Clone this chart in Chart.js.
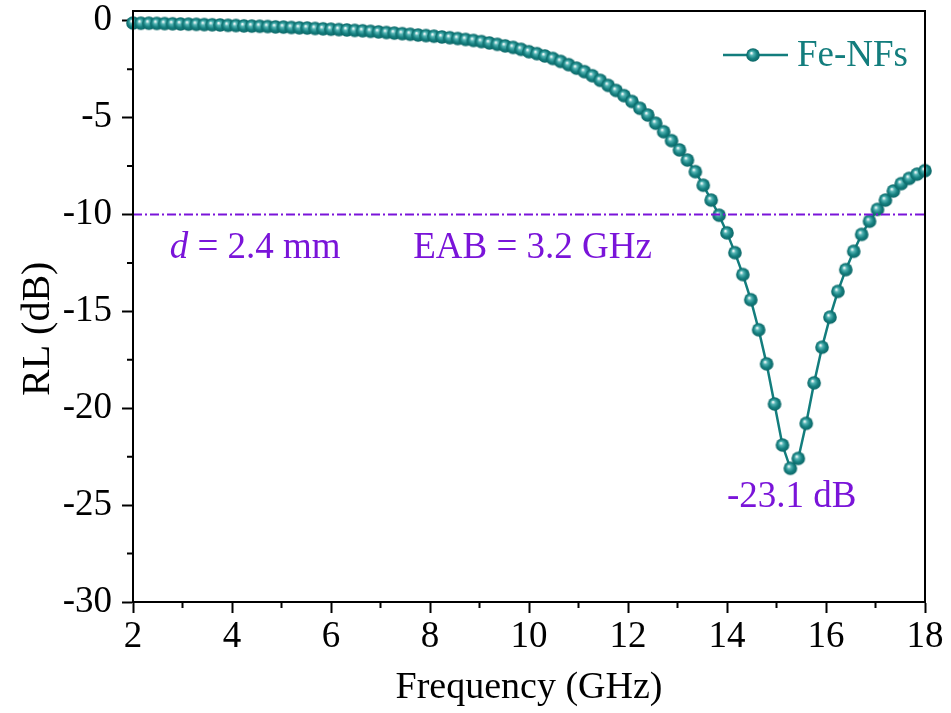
<!DOCTYPE html>
<html lang="en">
<head>
<meta charset="UTF-8">
<title>RL - Fe-NFs</title>
<script src="https://cdn.jsdelivr.net/npm/chart.js@4.4.1/dist/chart.umd.min.js"></script>
<style>
    html, body { margin: 0; padding: 0; background: #fff; }
    #wrap { width: 951px; height: 713px; }
</style>
</head>
<body>
<div id="wrap"><canvas id="rlChart" width="951" height="713"></canvas></div>
<script>
// Frequency (GHz) and reflection loss (dB)
const freq = [
    2.00, 2.16, 2.32, 2.48, 2.64, 2.80, 2.96, 3.12, 3.28, 3.44,
    3.60, 3.76, 3.92, 4.08, 4.24, 4.40, 4.56, 4.72, 4.88, 5.04,
    5.20, 5.36, 5.52, 5.68, 5.84, 6.00, 6.16, 6.32, 6.48, 6.64,
    6.80, 6.96, 7.12, 7.28, 7.44, 7.60, 7.76, 7.92, 8.08, 8.24,
    8.40, 8.56, 8.72, 8.88, 9.04, 9.20, 9.36, 9.52, 9.68, 9.84,
    10.00, 10.16, 10.32, 10.48, 10.64, 10.80, 10.96, 11.12, 11.28, 11.44,
    11.60, 11.76, 11.92, 12.08, 12.24, 12.40, 12.56, 12.72, 12.88, 13.04,
    13.20, 13.36, 13.52, 13.68, 13.84, 14.00, 14.16, 14.32, 14.48, 14.64,
    14.80, 14.96, 15.12, 15.28, 15.44, 15.60, 15.76, 15.92, 16.08, 16.24,
    16.40, 16.56, 16.72, 16.88, 17.04, 17.20, 17.36, 17.52, 17.68, 17.84,
    18.00
];
const rl = [
    -0.12, -0.13, -0.13, -0.14, -0.15, -0.16, -0.17, -0.18, -0.19, -0.20,
    -0.21, -0.22, -0.24, -0.25, -0.27, -0.28, -0.29, -0.30, -0.32, -0.33,
    -0.35, -0.37, -0.38, -0.40, -0.42, -0.44, -0.46, -0.48, -0.50, -0.52,
    -0.55, -0.58, -0.61, -0.64, -0.67, -0.70, -0.74, -0.77, -0.80, -0.84,
    -0.88, -0.92, -0.97, -1.02, -1.08, -1.15, -1.22, -1.30, -1.38, -1.48,
    -1.60, -1.70, -1.82, -1.95, -2.10, -2.27, -2.45, -2.63, -2.84, -3.08,
    -3.34, -3.60, -3.87, -4.17, -4.52, -4.87, -5.29, -5.73, -6.19, -6.67,
    -7.19, -7.79, -8.49, -9.26, -10.04, -10.95, -11.97, -13.10, -14.40, -15.95,
    -17.71, -19.78, -21.90, -23.10, -22.59, -20.78, -18.69, -16.85, -15.30, -13.97,
    -12.85, -11.90, -11.03, -10.35, -9.74, -9.26, -8.79, -8.41, -8.14, -7.92,
    -7.74
];
const seriesName = 'Fe-NFs';

// -10 dB reference line
const refX = [2, 18];
const refY = [-10, -10];

const xTicks = [2, 4, 6, 8, 10, 12, 14, 16, 18];
const yTicks = [0, -5, -10, -15, -20, -25, -30];
const xMinor = [3, 5, 7, 9, 11, 13, 15, 17];
const yMinor = [-2.5, -7.5, -12.5, -17.5, -22.5, -27.5];

// text notes: [text, x, y]
const notes = [
    ['= 2.4 mm', 2.74, -12.26],
    ['EAB = 3.2 GHz', 7.66, -12.26],
    ['-23.1 dB', 14.0, -25.1]
];
const yTitle = 'RL (dB)';

const teal = '#137d7d';
const purple = '#7a14d9';
const serif = '"Liberation Serif", "Times New Roman", serif';
const fs = 37;

// small shaded ball used as the marker
function makeBall(r) {
    const c = document.createElement('canvas');
    const s = Math.ceil(r * 2 + 2);
    c.width = s; c.height = s;
    const g = c.getContext('2d');
    const m = s / 2;
    const grad = g.createRadialGradient(m - r * 0.25, m - r * 0.3, 0.3, m, m, r);
    grad.addColorStop(0, '#ffffff');
    grad.addColorStop(0.28, '#52b3b3');
    grad.addColorStop(0.65, '#157f7f');
    grad.addColorStop(1, '#0b6666');
    g.fillStyle = grad;
    g.beginPath();
    g.arc(m, m, r, 0, Math.PI * 2);
    g.fill();
    return c;
}
const ball = makeBall(6.8);

const framePlugin = {
    id: 'frame',
    afterDraw(chart) {
        const { ctx, chartArea: a, scales: { x, y } } = chart;
        ctx.save();
        ctx.strokeStyle = '#000';
        ctx.lineWidth = 2;
        ctx.strokeRect(a.left, a.top, a.right - a.left, a.bottom - a.top);
        // minor ticks
        ctx.beginPath();
        xMinor.forEach(v => {
            const px = x.getPixelForValue(v);
            ctx.moveTo(px, a.bottom);
            ctx.lineTo(px, a.bottom + 6);
        });
        yMinor.forEach(v => {
            const py = y.getPixelForValue(v);
            ctx.moveTo(a.left, py);
            ctx.lineTo(a.left - 6, py);
        });
        ctx.stroke();

        // y axis title (sits a little below the middle in the original)
        ctx.fillStyle = '#000';
        ctx.font = '40px ' + serif;
        ctx.textAlign = 'center';
        ctx.textBaseline = 'middle';
        ctx.translate(38, y.getPixelForValue(-15.9));
        ctx.rotate(-Math.PI / 2);
        ctx.fillText(yTitle, 0, 0);
        ctx.restore();
    }
};

const notePlugin = {
    id: 'notes',
    afterDatasetsDraw(chart) {
        const { ctx, scales: { x, y } } = chart;
        ctx.save();
        ctx.fillStyle = purple;
        ctx.textBaseline = 'alphabetic';
        // "d" is italic
        const p0x = x.getPixelForValue(notes[0][1]);
        const p0y = y.getPixelForValue(notes[0][2]);
        ctx.font = 'italic ' + fs + 'px ' + serif;
        ctx.fillText('d', p0x, p0y);
        const dw = ctx.measureText('d ').width;
        ctx.font = fs + 'px ' + serif;
        ctx.fillText(notes[0][0], p0x + dw, p0y);
        for (let i = 1; i < notes.length; i++) {
            ctx.fillText(notes[i][0], x.getPixelForValue(notes[i][1]), y.getPixelForValue(notes[i][2]));
        }

        // legend
        const a = chart.chartArea;
        const ly = a.top + 44;
        const lx = a.right - 202;
        ctx.strokeStyle = teal;
        ctx.lineWidth = 2.5;
        ctx.beginPath();
        ctx.moveTo(lx, ly);
        ctx.lineTo(lx + 65, ly);
        ctx.stroke();
        ctx.drawImage(ball, lx + 30 - ball.width / 2, ly - ball.height / 2);
        ctx.fillStyle = teal;
        ctx.textBaseline = 'middle';
        ctx.font = fs + 'px ' + serif;
        ctx.fillText(seriesName, lx + 74, ly + 1);
        ctx.restore();
    }
};

new Chart(document.getElementById('rlChart'), {
    type: 'line',
    data: {
        datasets: [{
            label: 'RL = -10 dB',
            data: refX.map((v, i) => ({ x: v, y: refY[i] })),
            borderColor: purple,
            borderWidth: 2,
            borderDash: [9, 3, 2, 3],
            pointRadius: 0,
            order: 0
        }, {
            label: seriesName,
            data: freq.map((v, i) => ({ x: v, y: rl[i] })),
            borderColor: teal,
            borderWidth: 2.5,
            pointStyle: ball,
            pointRadius: 7,
            tension: 0,
            clip: false,
            order: 1
        }]
    },
    options: {
        responsive: false,
        animation: false,
        devicePixelRatio: 1,
        layout: { padding: { top: 11, right: 26, left: 0, bottom: 0 } },
        plugins: {
            legend: { display: false },
            tooltip: { enabled: false }
        },
        scales: {
            x: {
                type: 'linear',
                min: 2,
                max: 18,
                afterBuildTicks: s => { s.ticks = xTicks.map(v => ({ value: v })); },
                afterFit: s => { s.height = 111; s.paddingLeft = 0; s.paddingRight = 0; },
                border: { display: true, color: '#000', width: 2 },
                grid: { drawOnChartArea: false, drawTicks: true, tickLength: 11, tickWidth: 2, tickColor: '#000' },
                ticks: { color: '#000', padding: 2, maxRotation: 0, font: { family: serif, size: fs } },
                title: {
                    display: true,
                    text: 'Frequency (GHz)',
                    color: '#000',
                    font: { family: serif, size: 38 },
                    padding: { top: 0, bottom: 2 }
                }
            },
            y: {
                type: 'linear',
                min: -30,
                max: 0.5,
                afterBuildTicks: s => { s.ticks = yTicks.map(v => ({ value: v })); },
                afterFit: s => { s.width = 133; s.paddingTop = 0; s.paddingBottom = 0; },
                border: { display: true, color: '#000', width: 2 },
                grid: { drawOnChartArea: false, drawTicks: true, tickLength: 11, tickWidth: 2, tickColor: '#000' },
                ticks: { color: '#000', padding: 10, font: { family: serif, size: fs } }
            }
        }
    },
    plugins: [framePlugin, notePlugin]
});
</script>
</body>
</html>
